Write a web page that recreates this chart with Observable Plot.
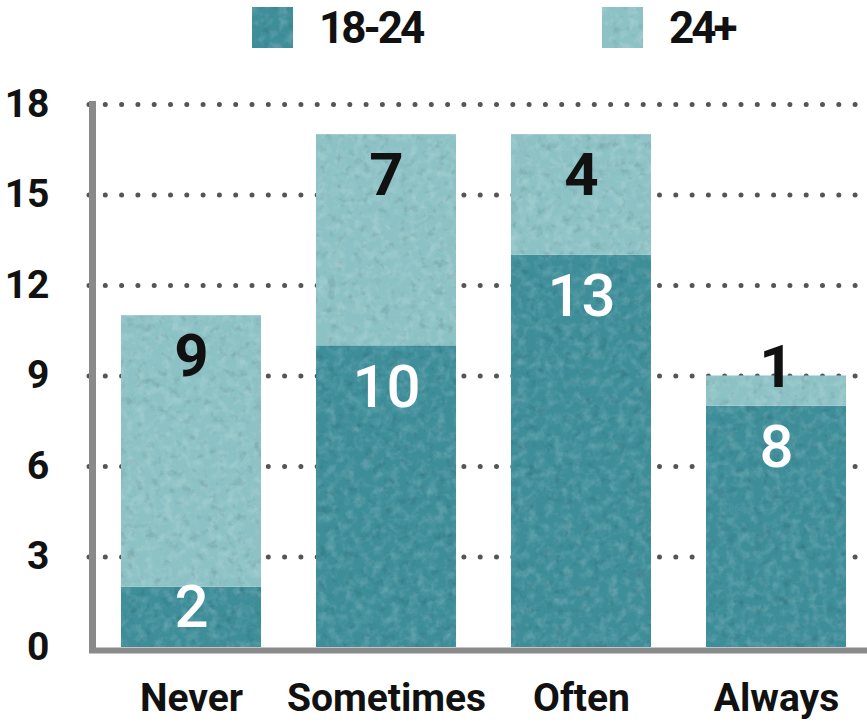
<!DOCTYPE html>
<html>
<head>
<meta charset="utf-8">
<script src="https://cdn.jsdelivr.net/npm/d3@7"></script>
<script src="https://cdn.jsdelivr.net/npm/@observablehq/plot@0.6"></script>
<style>
  html, body { margin: 0; padding: 0; background: #fff; }
  body { width: 867px; height: 725px; overflow: hidden; font-family: Roboto, "Liberation Sans", sans-serif; }
  .legend { height: 60px; display: flex; align-items: flex-start; padding-left: 252px; box-sizing: border-box; overflow: hidden; }
  .legend .item { display: flex; align-items: center; height: 41px; margin-top: 7px; width: 350px; flex: 0 0 350px; }
  .legend svg { display: block; flex: 0 0 auto; }
  .legend span { margin-left: 26px; font-size: 44px; font-weight: 700; letter-spacing: -3px; color: #111; line-height: 1; white-space: nowrap; }
</style>
</head>
<body>
<svg width="0" height="0" style="position:absolute">
  <defs>
    <!-- paper-like mottling for the bar fills -->
    <filter id="grain" color-interpolation-filters="sRGB">
      <feTurbulence type="fractalNoise" baseFrequency="0.11" numOctaves="5" seed="4" result="noise"/>
      <feColorMatrix in="noise" type="matrix" values="0 0 0 0 1  0 0 0 0 1  0 0 0 0 1  0.4 0 0 0 -0.17" result="light"/>
      <feColorMatrix in="noise" type="matrix" values="0 0 0 0 0  0 0 0 0 0  0 0 0 0 0  0 -0.35 0 0 0.15" result="dark"/>
      <feComposite in="light" in2="SourceGraphic" operator="in" result="lightIn"/>
      <feComposite in="dark" in2="SourceGraphic" operator="in" result="darkIn"/>
      <feMerge><feMergeNode in="SourceGraphic"/><feMergeNode in="lightIn"/><feMergeNode in="darkIn"/></feMerge>
    </filter>
  </defs>
</svg>
<div class="legend" id="legend"></div>
<div id="chart"></div>
<script>
// Survey answers by age group
const answers = ["Never", "Sometimes", "Often", "Always"];
const groups = ["18-24", "24+"];
const young = [2, 10, 13, 8];   // 18-24
const older = [9, 7, 4, 1];     // 24+
const yTicks = [0, 3, 6, 9, 12, 15, 18];
const colors = ["#3e8e9a", "#8cc2c5"];

// long-format table for the stacked bars
const rows = answers.flatMap((a, i) => [
  {answer: a, group: groups[0], value: young[i]},
  {answer: a, group: groups[1], value: older[i]}
]);

// value labels sit near the top of each segment; short segments get nudged
const labelOffset = h => h >= 3 ? 1.38 : h >= 2 ? 0.68 : -0.28;
const labels = [];
for (const a of answers) {
  let base = 0;
  for (const r of rows.filter(d => d.answer === a)) {
    const top = base + r.value;
    labels.push({...r, y: top - labelOffset(r.value)});
    base = top;
  }
}

// legend
const legend = document.getElementById("legend");
groups.forEach((g, i) => {
  const item = document.createElement("div");
  item.className = "item";
  item.innerHTML = `<svg width="41" height="41"><rect width="41" height="41" fill="${colors[i]}" filter="url(#grain)"/></svg><span>${g}</span>`;
  legend.appendChild(item);
});

const chart = Plot.plot({
  width: 867,
  height: 665,
  marginTop: 44,
  marginBottom: 78,
  marginLeft: 89,
  marginRight: 0,
  style: {fontFamily: "Roboto, 'Liberation Sans', sans-serif", fontSize: "39px", fontWeight: 700, color: "#111", background: "transparent", overflow: "visible"},
  x: {domain: answers, paddingInner: 0.283, paddingOuter: 0.133, align: 0.6, label: null},
  y: {domain: [0, 18], label: null},
  color: {domain: groups, range: colors},
  marks: [
    Plot.gridY(yTicks.slice(1), {stroke: "#555", strokeOpacity: 1, strokeWidth: 5, strokeDasharray: "0,16.3", strokeLinecap: "round"}),
    Plot.barY(rows, {x: "answer", y: "value", fill: "group"}),
    Plot.ruleY([0], {stroke: "#8a8a8a", strokeWidth: 6, dy: 3}),
    Plot.axisY(yTicks, {tickSize: 0, tickPadding: 40, label: null}),
    Plot.axisX({tickSize: 0, tickPadding: 36, label: null}),
    Plot.text(labels.filter(d => d.group === groups[0]), {x: "answer", y: "y", text: "value", fill: "white", fontSize: 60, fontWeight: 500}),
    Plot.text(labels.filter(d => d.group === groups[1]), {x: "answer", y: "y", text: "value", fill: "#111", fontSize: 60, fontWeight: 700})
  ]
});

// vertical axis line along the left edge of the frame
const ys = chart.scale("y");
d3.select(chart).append("line")
  .attr("x1", 89 + 3.5).attr("x2", 89 + 3.5)
  .attr("y1", ys.apply(18) - 3).attr("y2", ys.apply(0) + 6)
  .attr("stroke", "#8a8a8a").attr("stroke-width", 7);

d3.select(chart).selectAll('g[aria-label="bar"]').attr("filter", "url(#grain)");

document.getElementById("chart").appendChild(chart);
</script>
</body>
</html>
